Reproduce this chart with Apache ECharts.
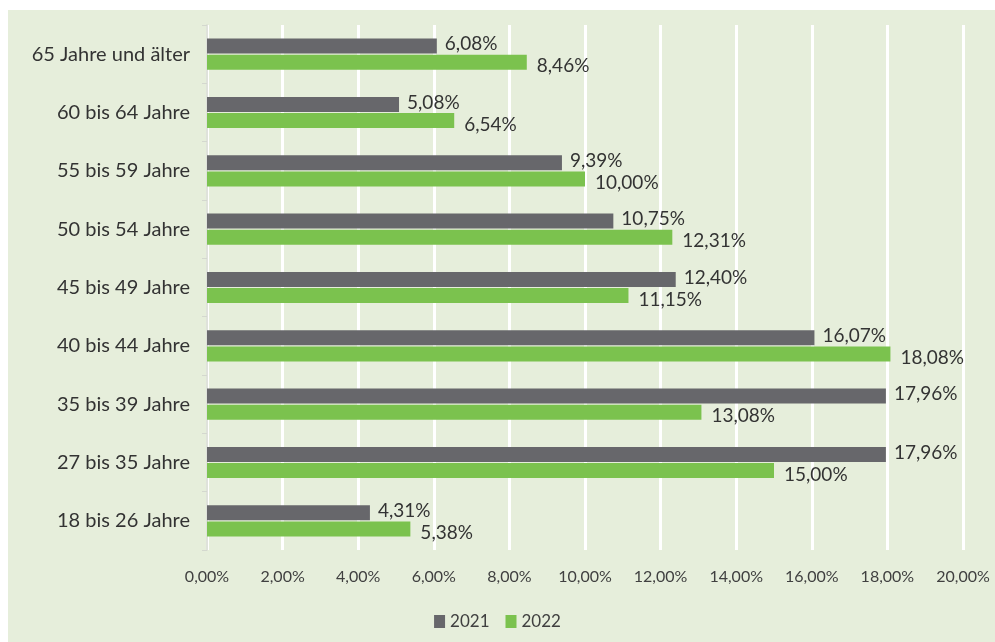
<!DOCTYPE html>
<html><head><meta charset="utf-8">
<script src="https://cdn.jsdelivr.net/npm/echarts@6/dist/echarts.min.js"></script>
<style>html,body{margin:0;padding:0;background:#fff}#c{width:995px;height:642px}</style>
</head><body><div id="c"></div>
<script>
const categories = ["18 bis 26 Jahre","27 bis 35 Jahre","35 bis 39 Jahre","40 bis 44 Jahre","45 bis 49 Jahre","50 bis 54 Jahre","55 bis 59 Jahre","60 bis 64 Jahre","65 Jahre und älter"];
const values2021 = [4.31, 17.96, 17.96, 16.07, 12.40, 10.75, 9.39, 5.08, 6.08];
const values2022 = [5.38, 15.00, 13.08, 18.08, 11.15, 12.31, 10.00, 6.54, 8.46];
const seriesNames = ["2021","2022"];
const xTicks = {min:0, max:20, interval:2};

const fmt = v => v.toFixed(2).replace('.', ',') + '%';
const FONT = 'Lato';
const chart = echarts.init(document.getElementById('c'), null, {renderer:'canvas'});
chart.setOption({
  backgroundColor: '#ffffff',
  animation: false,
  graphic: [{type:'rect', left:8, top:10, shape:{width:987, height:632}, style:{fill:'#e6eedb'}, z:-10}],
  grid: {left:207, right:32, top:25, bottom:92},
  legend: {
    bottom: 7, left: 'center', itemWidth: 11, itemHeight: 13, itemGap: 16,
    textStyle: {fontFamily: FONT, fontSize: 17, color: '#404040'},
    data: seriesNames, icon: 'rect'
  },
  xAxis: {
    type: 'value', min: xTicks.min, max: xTicks.max, interval: xTicks.interval,
    axisLine: {show:false}, axisTick: {show:false},
    splitLine: {show:true, lineStyle:{color:'#ffffff', width:3}},
    axisLabel: {formatter: v => v.toFixed(2).replace('.', ',') + '%', fontFamily: FONT, fontSize: 16, color:'#404040', margin: 19}
  },
  yAxis: {
    type: 'category', data: categories,
    axisLine: {show:true, lineStyle:{color:'#d4d8cf', width:1.5}},
    axisTick: {show:true, length:5, lineStyle:{color:'#d4d8cf'}},
    axisLabel: {fontFamily: FONT, fontSize: 20, color:'#333333', margin: 17}
  },
  series: [
    {name: seriesNames[0], type:'bar', data: values2021, barWidth: 15, barGap: '8%',
     itemStyle:{color:'#67676b'},
     label:{show:true, position:'right', distance:8, offset:[0,-2], formatter: p => fmt(p.value), fontFamily: FONT, fontSize:19, color:'#333333'}},
    {name: seriesNames[1], type:'bar', data: values2022, barWidth: 15,
     itemStyle:{color:'#7bc24e'},
     label:{show:true, position:'right', distance:10, offset:[0,4], formatter: p => fmt(p.value), fontFamily: FONT, fontSize:19, color:'#333333'}}
  ]
});
</script></body></html>
